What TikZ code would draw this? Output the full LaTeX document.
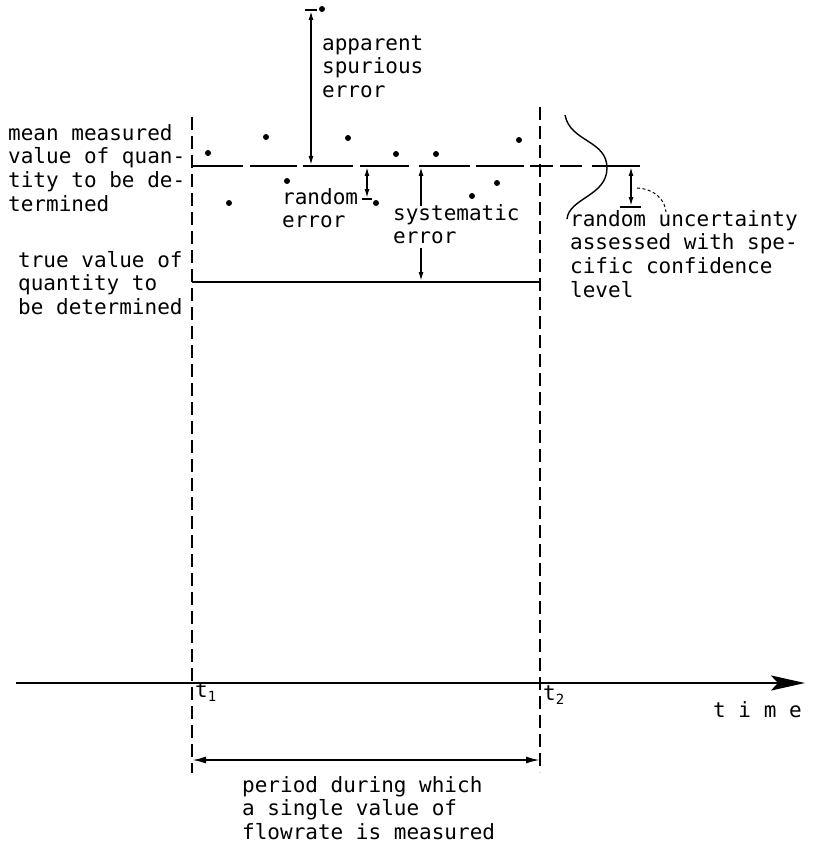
\documentclass[tikz,border=0pt]{standalone}
\usepackage{fontspec}
\newfontfamily\monof{DejaVu Sans Mono}
\usetikzlibrary{arrows.meta}
\begin{document}
\begin{tikzpicture}[x=1pt,y=-1pt,
  lbl/.style={font=\monof\fontsize{21}{23.7}\selectfont, inner sep=0pt, align=left, anchor=north west},
  blbl/.style={font=\monof\fontsize{21}{23.7}\selectfont, inner sep=0pt, anchor=base west},
  heavy/.style={line width=2.6pt},
  dashv/.style={line width=1.4pt, dash pattern=on 13pt off 6pt},
  sm/.style={line width=1.5pt},
  tipA/.tip={Latex[length=9pt,width=5pt]},
  tipB/.tip={Latex[length=14pt,width=7pt]},
  dot/.style={fill=black},
  barline/.style={line width=2pt}
]
\useasboundingbox (0,0) rectangle (814,845);

% key coordinates
\coordinate (L top) at (192,117);
\coordinate (L bot) at (192,773);
\coordinate (R top) at (540,107);
\coordinate (R bot) at (540,772);
\coordinate (true L) at (192,282);
\coordinate (true R) at (540,282);
\coordinate (axL) at (16,683);
\coordinate (axR) at (805,683);

% dashed verticals
\draw[dashv] (L top) -- (L bot);
\draw[dashv] (R top) -- (R bot);

% mean measured value line (broken)
\draw[heavy] (192,166)--(243,166) (250,166)--(297,166) (303,166)--(353,166)
  (360,166)--(409,166) (419,166)--(470,166) (476,166)--(524,166)
  (530,166)--(553,166) (560,166)--(582,166) (592,166)--(640,166);

% true value line
\draw[heavy] (true L) -- (true R);

% time axis
\draw[heavy, -{Stealth[length=34pt,width=15pt,inset=7pt]}] (axL) -- (axR);

% measured points
\foreach \p in {(208,153),(266,137),(348,138),(396,154),(436,154),(519,140),
                (229,203),(287,181),(376,203),(472,196),(497,183),(322,9)}
  \fill[dot] \p circle[radius=3pt];

% apparent spurious error arrow
\coordinate (sp top) at (311,11);
\coordinate (sp bot) at (311,165);
\draw[sm, tipA-tipA] (sp top) -- (sp bot);
\draw[barline] (305,10) -- (317,10);

% random error arrow
\coordinate (re top) at (367,167);
\coordinate (re bot) at (367,198);
\draw[sm, tipA-tipA] (re top) -- (re bot);
\draw[barline] (362,199) -- (372,199);

% systematic error arrows
\coordinate (se top) at (421,167);
\coordinate (se m1) at (421,206);
\coordinate (se m2) at (421,248);
\coordinate (se bot) at (421,281);
\draw[sm, tipA-] (se top) -- (se m1);
\draw[sm, -tipA] (se m2) -- (se bot);

% distribution curve
\draw[line width=1.4pt] (565,115) .. controls (570,142) and (607,140) .. (607,168)
  .. controls (607,196) and (569,198) .. (567,219);

% random uncertainty arrow
\coordinate (ru top) at (631,167);
\coordinate (ru bot) at (631,206);
\draw[sm, tipA-tipA] (ru top) -- (ru bot);
\draw[barline] (620,207) -- (641,207);
\draw[line width=1pt, dash pattern=on 3pt off 2.5pt] (637,188) .. controls (655,189) and (665,200) .. (666,212);

% period arrow
\coordinate (pe L) at (192,760);
\coordinate (pe R) at (540,760);
\draw[line width=1.9pt, tipB-tipB] (pe L) -- (pe R);

% labels
\node[lbl] (mean) at (8,123.4) {\strut mean measured\\value of quan-\\tity to be de-\\termined};
\node[lbl] (truev) at (18,250.4) {\strut true value of\\quantity to\\be determined};
\node[lbl] (appar) at (322,33.4) {\strut apparent\\spurious\\error};
\node[lbl] (rand) at (282,187.4) {\strut random\\error};
\node[lbl] (syst) at (393,203.4) {\strut systematic\\error};
\node[lbl] (unc) at (570,209.4) {\strut random uncertainty\\assessed with spe-\\cific confidence\\level};
\node[lbl] (period) at (242,775.4) {\strut period during which\\a single value of\\flowrate is measured};
\node[blbl] (time) at (713,717) {t i m e};
\node[blbl] (t1) at (195,697) {t\raisebox{-4pt}{\fontsize{14}{14}\selectfont 1}};
\node[blbl] (t2) at (543,700) {t\raisebox{-4pt}{\fontsize{14}{14}\selectfont 2}};
\end{tikzpicture}
\end{document}
